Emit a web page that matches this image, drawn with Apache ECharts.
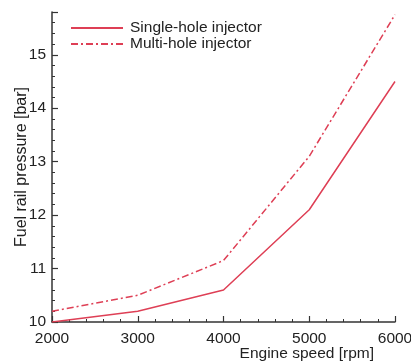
<!DOCTYPE html>
<html>
<head>
<meta charset="utf-8">
<script src="https://cdn.jsdelivr.net/npm/echarts@6/dist/echarts.min.js"></script>
<style>html,body{margin:0;padding:0;background:#fff}#c{width:411px;height:363px}</style>
</head>
<body>
<div id="c"></div>
<script>
const speeds = [2000, 3000, 4000, 5000, 6000];
const singleHole = [10.0, 10.2, 10.6, 12.1, 14.5];
const multiHole = [10.2, 10.5, 11.15, 13.1, 15.75];
const seriesNames = ['Single-hole injector', 'Multi-hole injector'];
const xTitle = 'Engine speed [rpm]';
const yTitle = 'Fuel rail pressure [bar]';

const red = '#de3f55';
const axisColor = '#333';
const font = "'Liberation Sans', Arial, sans-serif";

const chart = echarts.init(document.getElementById('c'), null, {renderer: 'canvas'});
chart.setOption({
  animation: false,
  backgroundColor: '#fff',
  grid: {left: 52, right: 16, top: 12, bottom: 41, containLabel: false, outerBoundsMode: 'none'},
  legend: {
    orient: 'vertical', left: 65, top: 15, itemWidth: 52, itemHeight: 10, itemGap: 0,
    itemStyle: {opacity: 0},
    textStyle: {fontFamily: font, fontSize: 15.5, color: '#222', padding: [0, 0, 0, 2]},
    data: seriesNames
  },
  xAxis: {
    type: 'value', min: 2000, max: 6000, interval: 1000,
    name: xTitle, nameLocation: 'end', nameGap: -21, nameMoveOverlap: false,
    nameTextStyle: {fontFamily: font, fontSize: 15.5, color: '#222', align: 'right', verticalAlign: 'top', padding: [24, 0, 0, 0]},
    axisLine: {lineStyle: {color: axisColor, width: 1.5}},
    axisTick: {inside: true, length: 6, lineStyle: {color: axisColor, width: 1.2}},
    minorTick: {show: true, splitNumber: 5, length: 3, lineStyle: {color: axisColor, width: 1}},
    axisLabel: {fontFamily: font, fontSize: 15.5, color: '#222', margin: 9, formatter: v => String(v)},
    splitLine: {show: false}
  },
  yAxis: {
    type: 'value', min: 10, max: 15.8, interval: 1,
    name: yTitle, nameLocation: 'middle', nameGap: 22, nameMoveOverlap: false,
    nameTextStyle: {fontFamily: font, fontSize: 16, color: '#222'},
    axisLine: {show: true, lineStyle: {color: axisColor, width: 1.5}},
    axisTick: {show: true, inside: true, length: 6, lineStyle: {color: axisColor, width: 1.2}},
    minorTick: {show: true, splitNumber: 5, length: 3, lineStyle: {color: axisColor, width: 1}},
    axisLabel: {fontFamily: font, fontSize: 15.5, color: '#222', margin: 6,
      formatter: v => (Math.abs(v - Math.round(v)) < 1e-6 ? String(Math.round(v)) : '')},
    splitLine: {show: false}
  },
  series: [
    {name: seriesNames[0], type: 'line', data: speeds.map((s, i) => [s, singleHole[i]]),
     symbol: 'none', lineStyle: {color: red, width: 1.5}, itemStyle: {color: red}},
    {name: seriesNames[1], type: 'line', data: speeds.map((s, i) => [s, multiHole[i]]),
     symbol: 'none', lineStyle: {color: red, width: 1.5, type: [7, 3, 2, 3]}, itemStyle: {color: red}}
  ]
});
</script>
</body>
</html>
